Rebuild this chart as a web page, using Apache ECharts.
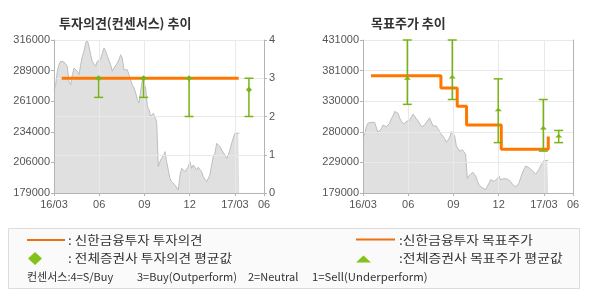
<!DOCTYPE html>
<html>
<head>
<meta charset="utf-8">
<script src="https://cdn.jsdelivr.net/npm/echarts@6/dist/echarts.min.js"></script>
<style>
html,body{margin:0;padding:0;background:#fff;}
#c{width:590px;height:300px;}
</style>
</head>
<body>
<div id="c"></div>
<script>
// ---- data (x in months since 2016-03) ----
var xTickLabels = ['16/03','06','09','12','17/03','06'];
var priceMonths = [0.00,0.11,0.22,0.33,0.44,0.55,0.66,0.77,0.88,0.99,1.11,1.22,1.33,1.44,1.55,1.66,1.77,1.88,1.99,2.10,2.21,2.32,2.43,2.54,2.65,2.76,2.87,2.98,3.09,3.21,3.32,3.43,3.54,3.65,3.76,3.87,3.98,4.09,4.20,4.31,4.42,4.53,4.64,4.75,4.86,4.97,5.08,5.19,5.31,5.42,5.53,5.64,5.75,5.86,5.97,6.08,6.19,6.30,6.41,6.52,6.59,6.70,6.81,6.88,6.92,6.98,7.07,7.18,7.29,7.36,7.47,7.58,7.69,7.80,7.91,8.02,8.14,8.24,8.36,8.47,8.57,8.69,8.80,8.91,9.02,9.13,9.24,9.35,9.46,9.57,9.68,9.79,9.90,10.01,10.13,10.23,10.34,10.46,10.56,10.68,10.79,10.90,11.01,11.12,11.23,11.34,11.45,11.56,11.67,11.78,11.89,12.00,12.12,12.22,12.29];
var prices = [271500,276000,288000,293900,296900,295400,296300,295400,292500,279000,276000,284900,290900,292500,288000,284900,293900,301400,305900,313300,316000,310400,302800,296900,295400,292500,296900,295400,298400,304400,308800,305900,301400,299900,293900,288000,290900,290900,295400,298400,302800,299900,289400,288000,289400,284900,280500,276000,273000,268500,262500,259600,270100,280500,282000,273000,256600,253600,247700,249100,250400,248800,242800,242800,202600,201100,208600,210100,213000,216000,207000,199600,192200,189100,187700,186200,184600,181700,195100,201100,199600,198100,196600,202600,207000,201100,204100,202600,199600,202000,201100,198100,193600,192200,189100,190600,195100,204100,211500,214600,223500,224900,220500,217500,216000,213000,210100,213000,217500,223500,224900,232500,233900,232500,232500];

// Shinhan opinion (3 = Buy)
var opinionMonths = [0.51, 12.25];
var opinions = [3, 3];
// consensus opinion ranges
var consMonths = [2.96, 5.94, 8.96, 12.93];
var consHigh = [3, 3, 3, 3];
var consLow = [2.5, 2.5, 2, 2];
var consAvg = [3, 3, 3, 2.7];

// Shinhan target price (step changes)
var targetMonths = [0.53, 5.17, 6.25, 6.87, 9.17, 12.29];
var targets = [372000, 352000, 322000, 291000, 251000, 272000];
// consensus target price ranges
var tpMonths = [2.94, 5.92, 8.97, 11.96, 12.98];
var tpHigh = [431000, 431000, 367000, 333000, 282000];
var tpLow = [325000, 333000, 262000, 248000, 262000];
var tpAvg = [368000, 370000, 316000, 286000, 273000];

// ---- build ----
function zip(a, b) { return a.map(function (v, i) { return [v, b[i]]; }); }
var priceData = zip(priceMonths, prices);
var consData = consMonths.map(function (m, i) { return [m, consLow[i], consHigh[i], consAvg[i]]; });
var tpData = tpMonths.map(function (m, i) { return [m, tpLow[i], tpHigh[i], tpAvg[i]]; });

var GREEN = '#79b414';
var ORANGE = '#ff7700';
var AXIS = '#b4b4b4';
var GRIDC = '#e9e9e9';
var LBL = '#555';
var NUMFONT = 'Liberation Sans, Arial, sans-serif';
var KFONT = '"Noto Sans CJK KR", sans-serif';

function makeErr(shape) {
  return function (params, api) {
    var x = api.value(0), lo = api.value(1), hi = api.value(2), av = api.value(3);
    var pl = api.coord([x, lo]), ph = api.coord([x, hi]), pa = api.coord([x, av]);
    var w = 4.5;
    var st = { stroke: GREEN, lineWidth: 1.5 };
    var marker;
    if (shape === 'diamond') {
      marker = { type: 'polygon', shape: { points: [[pa[0], pa[1] - 3], [pa[0] + 3, pa[1]], [pa[0], pa[1] + 3], [pa[0] - 3, pa[1]]] }, style: { fill: GREEN } };
    } else {
      marker = { type: 'polygon', shape: { points: [[pa[0] - 3.5, pa[1] + 1.5], [pa[0] + 3.5, pa[1] + 1.5], [pa[0], pa[1] - 2]] }, style: { fill: GREEN } };
    }
    return {
      type: 'group',
      children: [
        { type: 'line', shape: { x1: ph[0], y1: ph[1], x2: pl[0], y2: pl[1] }, style: st },
        { type: 'line', shape: { x1: ph[0] - w, y1: ph[1], x2: ph[0] + w, y2: ph[1] }, style: st },
        { type: 'line', shape: { x1: pl[0] - w, y1: pl[1], x2: pl[0] + w, y2: pl[1] }, style: st },
        marker
      ]
    };
  };
}

function xAxisCfg(gi) {
  return {
    gridIndex: gi, type: 'value', min: 0, max: 13.93, interval: 3, z: 1,
    axisLine: { show: true, lineStyle: { color: AXIS, width: 1 } },
    axisTick: { show: true, length: 3, lineStyle: { color: AXIS } },
    axisLabel: {
      color: LBL, fontSize: 11, fontFamily: NUMFONT, margin: 6, showMinLabel: true, showMaxLabel: true,
      formatter: function (v) {
        var idx = Math.round(v / 3);
        if (Math.abs(v - idx * 3) < 0.01 && idx < 5) return xTickLabels[idx];
        return xTickLabels[5];
      }
    },
    splitLine: { show: true, lineStyle: { color: GRIDC, width: 1 } }
  };
}

function legText(x, y, txt, sx, size) {
  return { type: 'text', x: x, y: y, scaleX: sx, style: { text: txt, fill: '#333', font: (size || 12) + 'px "Noto Sans CJK KR"', textVerticalAlign: 'middle' } };
}

var option = {
  animation: false,
  backgroundColor: '#fff',
  title: [
    { text: '투자의견(컨센서스) 추이', left: 54, top: 12, textStyle: { fontSize: 13, fontWeight: 'bold', color: '#333', fontFamily: KFONT } },
    { text: '목표주가 추이', left: 366, top: 12, textStyle: { fontSize: 13, fontWeight: 'bold', color: '#333', fontFamily: KFONT } }
  ],
  grid: [
    { left: 54, top: 40, width: 210, height: 153 },
    { left: 363, top: 40, width: 210, height: 153 }
  ],
  xAxis: [xAxisCfg(0), xAxisCfg(1)],
  yAxis: [
    { gridIndex: 0, type: 'value', min: 179000, max: 316000, interval: 27400, position: 'left', z: 1,
      axisLine: { show: true, lineStyle: { color: AXIS } },
      axisTick: { show: true, length: 3, lineStyle: { color: AXIS } },
      axisLabel: { color: LBL, fontSize: 11, fontFamily: NUMFONT, margin: 4, formatter: function (v) { return String(Math.round(v / 1000) * 1000); } },
      splitLine: { show: false } },
    { gridIndex: 0, type: 'value', min: 0, max: 4, interval: 1, position: 'right', z: 1,
      axisLine: { show: true, lineStyle: { color: AXIS } },
      axisTick: { show: true, length: 3, lineStyle: { color: AXIS } },
      axisLabel: { color: LBL, fontSize: 11, fontFamily: NUMFONT, margin: 5 },
      splitLine: { show: true, lineStyle: { color: GRIDC } } },
    { gridIndex: 1, type: 'value', min: 179000, max: 431000, interval: 50400, position: 'left', z: 1,
      axisLine: { show: true, lineStyle: { color: AXIS } },
      axisTick: { show: true, length: 3, lineStyle: { color: AXIS } },
      axisLabel: { color: LBL, fontSize: 11, fontFamily: NUMFONT, margin: 4, formatter: function (v) { return String(Math.round(v / 1000) * 1000); } },
      splitLine: { show: true, lineStyle: { color: GRIDC } } },
    { gridIndex: 1, type: 'value', min: 179000, max: 431000, interval: 50400, position: 'right', z: 1,
      axisLine: { show: true, lineStyle: { color: AXIS } },
      axisTick: { show: false }, axisLabel: { show: false }, splitLine: { show: false } }
  ],
  series: [
    { type: 'line', xAxisIndex: 0, yAxisIndex: 0, data: priceData, symbol: 'none', z: 0,
      lineStyle: { color: '#bdbdbd', width: 1 }, areaStyle: { color: '#e0e0e0', origin: 'start', opacity: 1 } },
    { type: 'line', xAxisIndex: 0, yAxisIndex: 1, data: zip(opinionMonths, opinions), symbol: 'none', z: 3,
      lineStyle: { color: ORANGE, width: 3 } },
    { type: 'custom', xAxisIndex: 0, yAxisIndex: 1, data: consData, renderItem: makeErr('diamond'), z: 4 },

    { type: 'line', xAxisIndex: 1, yAxisIndex: 2, data: priceData, symbol: 'none', z: 0,
      lineStyle: { color: '#bdbdbd', width: 1 }, areaStyle: { color: '#e0e0e0', origin: 'start', opacity: 1 } },
    { type: 'line', xAxisIndex: 1, yAxisIndex: 2, data: zip(targetMonths, targets), step: 'end', symbol: 'none', z: 3,
      lineStyle: { color: ORANGE, width: 3 } },
    { type: 'custom', xAxisIndex: 1, yAxisIndex: 2, data: tpData, renderItem: makeErr('triangle'), z: 4, clip: false }
  ],
  graphic: [
    { type: 'rect', shape: { x: 8.5, y: 228.5, width: 571, height: 60 }, style: { fill: '#fafafa', stroke: '#dcdcdc', lineWidth: 1 }, z: 0 },
    { type: 'line', shape: { x1: 27, y1: 240, x2: 65, y2: 240 }, style: { stroke: '#ee6e10', lineWidth: 2 } },
    legText(68, 240, ': 신한금융투자 투자의견', 1.13),
    { type: 'polygon', shape: { points: [[35, 252], [42, 258.5], [35, 265], [28, 258.5]] }, style: { fill: '#84c21a' } },
    legText(68, 258.5, ': 전체증권사 투자의견 평균값', 1.14),
    { type: 'line', shape: { x1: 356, y1: 239.5, x2: 395, y2: 239.5 }, style: { stroke: '#ee6e10', lineWidth: 2 } },
    legText(399, 240, ':신한금융투자 목표주가', 1.15),
    { type: 'polygon', shape: { points: [[356, 262.5], [371, 262.5], [363.5, 255.5]] }, style: { fill: '#84c21a' } },
    legText(399, 258.5, ':전체증권사 목표주가 평균값', 1.16),
    legText(27, 277, '컨센서스:4=S/Buy', 1, 11),
    legText(137, 277, '3=Buy(Outperform)', 1, 11),
    legText(248, 277, '2=Neutral', 1, 11),
    legText(312, 277, '1=Sell(Underperform)', 1.03, 11)
  ]
};

var chart = echarts.init(document.getElementById('c'), null, { renderer: 'canvas' });
chart.setOption(option);
</script>
</body>
</html>
